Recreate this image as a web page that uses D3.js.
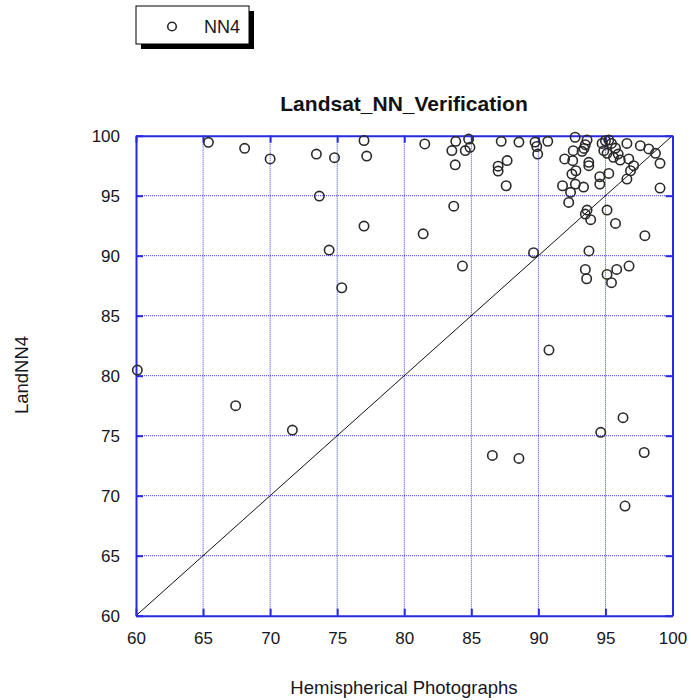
<!DOCTYPE html>
<html>
<head>
<meta charset="utf-8">
<script src="https://cdn.jsdelivr.net/npm/d3@7"></script>
<style>
  body { margin: 0; background: #fff; }
  text { font-family: "Liberation Sans", Arial, sans-serif; }
</style>
</head>
<body>
<svg id="chart" width="691" height="700"></svg>
<script>
// ---- data ----
const xTicks = [60, 65, 70, 75, 80, 85, 90, 95, 100];
const yTicks = [60, 65, 70, 75, 80, 85, 90, 95, 100];
const hemi = [
  65.4, 68.1, 70.0, 73.45, 74.8, 77.0, 77.2, 73.67, 77.0, 74.4, 75.34, 60.1, 67.43, 71.66,
  81.53, 83.84, 83.55, 84.8, 84.55, 84.9, 83.8, 87.23, 88.55, 87.67, 87.0, 87.0, 87.6,
  89.75, 89.88, 89.95, 90.7, 83.69, 81.41, 84.34, 89.64, 90.79,
  86.57, 88.55, 94.65, 97.89, 96.46, 96.31,
  93.5, 93.6, 95.12, 95.84, 96.76, 95.45, 93.77,
  92.74, 93.63, 93.5, 93.4, 93.26, 92.6, 94.75, 95.0, 95.25, 95.45, 94.88, 95.12, 95.75,
  95.95, 95.6, 96.1, 96.6, 97.6, 98.23, 98.73, 99.07, 96.74, 97.1, 96.87, 96.6, 95.25,
  94.58, 94.58, 93.76, 93.76, 92.8, 92.5, 91.96, 92.56, 91.8, 92.76, 93.37, 92.4, 92.26,
  93.63, 93.5, 93.9, 95.12, 95.75, 97.94, 99.07
];
const landNN4 = [
  99.45, 98.95, 98.06, 98.47, 98.17, 99.6, 98.3, 94.97, 92.47, 90.47, 87.33, 80.47, 77.5, 75.47,
  99.31, 99.53, 98.76, 99.72, 98.76, 99.03, 97.57, 99.53, 99.47, 97.93, 97.46, 97.05, 95.83,
  99.47, 99.1, 98.47, 99.53, 94.13, 91.82, 89.14, 90.25, 82.14,
  73.36, 73.11, 75.28, 73.6, 69.14, 76.5,
  88.86, 88.08, 88.44, 88.86, 89.14, 87.75, 90.4,
  99.87, 99.64, 99.25, 98.94, 98.7, 98.75, 99.36, 99.58, 99.64, 99.36, 98.75, 98.53, 98.97,
  98.47, 98.2, 97.97, 99.36, 99.17, 98.9, 98.53, 97.7, 98.06, 97.5, 97.08, 96.39, 96.86,
  96.58, 95.97, 97.5, 97.78, 97.08, 96.8, 98.06, 97.92, 95.83, 95.97, 95.72, 95.28, 94.44,
  93.8, 93.47, 93.0, 93.8, 92.69, 91.67, 95.64
];
const seriesName = "NN4";
const titleText = "Landsat_NN_Verification";
const xLabel = "Hemispherical Photographs";
const yLabel = "LandNN4";
const points = hemi.map((h, i) => ({ x: h, y: landNN4[i] }));

// ---- layout ----
const svg = d3.select("#chart");
const L = 136, R = 672.5, T = 135.7, B = 615.7;
const x = d3.scaleLinear().domain([60, 100]).range([L, R]);
const y = d3.scaleLinear().domain([60, 100]).range([B, T]);
const blue = "#2828e6";
const txt = "#161622";

// grid (dotted)
const grid = svg.append("g");
grid.selectAll("line.gx").data(xTicks.slice(1, -1)).join("line")
  .attr("x1", d => x(d)).attr("x2", d => x(d)).attr("y1", T).attr("y2", B)
  .attr("stroke", "#3a3aff").attr("stroke-width", 1).attr("stroke-dasharray", "1,1");
grid.selectAll("line.gy").data(yTicks.slice(1, -1)).join("line")
  .attr("y1", d => y(d)).attr("y2", d => y(d)).attr("x1", L).attr("x2", R)
  .attr("stroke", "#3a3aff").attr("stroke-width", 1).attr("stroke-dasharray", "1,1");

// diagonal 1:1
svg.append("line")
  .attr("x1", x(60)).attr("y1", y(60)).attr("x2", x(100)).attr("y2", y(100))
  .attr("stroke", "#111").attr("stroke-width", 1);

// axes with inward ticks on all sides
const tl = 7;
const styleAxis = g => {
  g.select(".domain").attr("stroke", blue).attr("stroke-width", 2);
  g.selectAll(".tick line").attr("stroke", blue).attr("stroke-width", 2);
  g.selectAll("text").attr("font-size", 17).attr("fill", txt)
    .attr("font-family", "Liberation Sans, Arial, sans-serif");
};
svg.append("g").attr("transform", `translate(0,${B})`)
  .call(d3.axisBottom(x).tickValues(xTicks).tickSizeInner(-tl).tickSizeOuter(0).tickPadding(16))
  .call(styleAxis);
svg.append("g").attr("transform", `translate(0,${T})`)
  .call(d3.axisTop(x).tickValues(xTicks).tickSizeInner(-tl).tickSizeOuter(0).tickFormat(""))
  .call(styleAxis);
svg.append("g").attr("transform", `translate(${L},0)`)
  .call(d3.axisLeft(y).tickValues(yTicks).tickSizeInner(-tl).tickSizeOuter(0).tickPadding(16))
  .call(styleAxis);
svg.append("g").attr("transform", `translate(${R},0)`)
  .call(d3.axisRight(y).tickValues(yTicks).tickSizeInner(-tl).tickSizeOuter(0).tickFormat(""))
  .call(styleAxis);

// points
svg.append("g").selectAll("circle").data(points).join("circle")
  .attr("cx", d => x(d.x)).attr("cy", d => y(d.y)).attr("r", 4.7)
  .attr("fill", "none").attr("stroke", "#2a2a2a").attr("stroke-width", 1.6);

// title & labels
svg.append("text").attr("x", 404).attr("y", 111).attr("text-anchor", "middle")
  .attr("font-size", 21).attr("font-weight", "bold").attr("fill", "#111").text(titleText);
svg.append("text").attr("x", 404).attr("y", 694).attr("text-anchor", "middle")
  .attr("font-size", 18.5).attr("fill", txt).text(xLabel);
svg.append("text").attr("transform", "translate(28,375) rotate(-90)").attr("text-anchor", "middle")
  .attr("font-size", 18.5).attr("fill", txt).text(yLabel);

// legend
const lg = svg.append("g");
lg.append("rect").attr("x", 141).attr("y", 11).attr("width", 113).attr("height", 38).attr("fill", "#000");
lg.append("rect").attr("x", 136).attr("y", 6).attr("width", 113).attr("height", 38)
  .attr("fill", "#fff").attr("stroke", "#000").attr("stroke-width", 1);
lg.append("circle").attr("cx", 172).attr("cy", 26.5).attr("r", 4.3)
  .attr("fill", "none").attr("stroke", "#2a2a2a").attr("stroke-width", 1.6);
lg.append("text").attr("x", 204).attr("y", 33).attr("font-size", 18).attr("fill", txt).text(seriesName);
</script>
</body>
</html>
